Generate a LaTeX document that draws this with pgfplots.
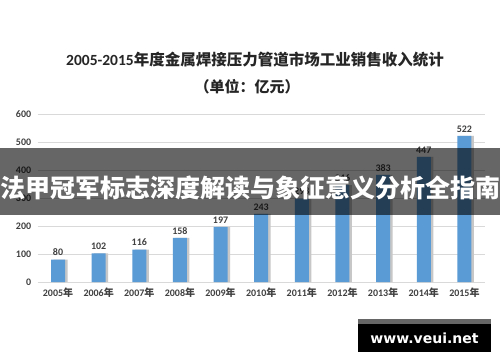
\documentclass[border=0pt]{standalone}
\usepackage{fontspec}
\setmainfont{Carlito}
\newfontfamily\cjk{Noto Sans CJK SC}
\newfontfamily\dvs{DejaVu Sans}
\usepackage{pgfplots}
\pgfplotsset{compat=1.18}
\definecolor{barblue}{HTML}{5B9BD5}
\definecolor{txt}{HTML}{404040}
\newcommand{\nian}{{\cjk 年}}
\begin{document}
\begin{tikzpicture}[x=1pt,y=1pt]
\path[use as bounding box, fill=white] (0,0) rectangle (500,362);
\begin{axis}[
  at={(37.7pt,80pt)}, anchor=south west,
  scale only axis, width=447pt, height=168pt,
  xmin=-0.5, xmax=10.5, ymin=0, ymax=600,
  ytick={0,100,...,600},
  ymajorgrids, grid style={draw=black!15, line width=0.7pt},
  axis line style={draw=none},
  major tick length=0pt,
  xtick={0,...,10},
  xticklabels={2005\nian,2006\nian,2007\nian,2008\nian,2009\nian,2010\nian,2011\nian,2012\nian,2013\nian,2014\nian,2015\nian},
  tick label style={font=\fontsize{10}{12}\selectfont\bfseries, text=txt},
  yticklabel style={xshift=-3pt},
  xticklabel style={yshift=-2pt},
  /pgf/number format/assume math mode=true,
  ybar, bar width=14pt,
  clip=false,
]
\addplot[fill=black!22, draw=none, bar shift=2.5pt, forget plot] coordinates {
(0,80) (1,102) (2,116) (3,158) (4,197) (5,243) (6,298) (7,346) (8,383) (9,447) (10,522)};
\addplot[fill=barblue, draw=none, bar shift=0pt, nodes near coords,
  every node near coord/.append style={font=\fontsize{10}{12}\selectfont\bfseries, text=txt}] coordinates {
(0,80) (1,102) (2,116) (3,158) (4,197) (5,243) (6,298) (7,346) (8,383) (9,447) (10,522)};
\end{axis}
\node[font=\bfseries\fontsize{15.5}{17}\selectfont, text=black!85] at (255,302) {2005-2015{\cjk 年度金属焊接压力管道市场工业销售收入统计}};
\node[font=\cjk\bfseries\fontsize{15}{17}\selectfont, text=black!85] at (247,275) {（单位：亿元）};
\fill[black, opacity=0.6] (0,147) rectangle (500,214);
\node[text=white, font=\cjk\bfseries\fontsize{25}{27}\selectfont] at (250,174) {法甲冠军标志深度解读与象征意义分析全指南};
\fill[black!60] (358,38) rectangle (491,43);
\fill[black] (358,10) rectangle (491,38);
\node[text=white, font=\dvs\bfseries\fontsize{14}{15}\selectfont] at (424.5,24) {www.veui.net};
\end{tikzpicture}
\end{document}
